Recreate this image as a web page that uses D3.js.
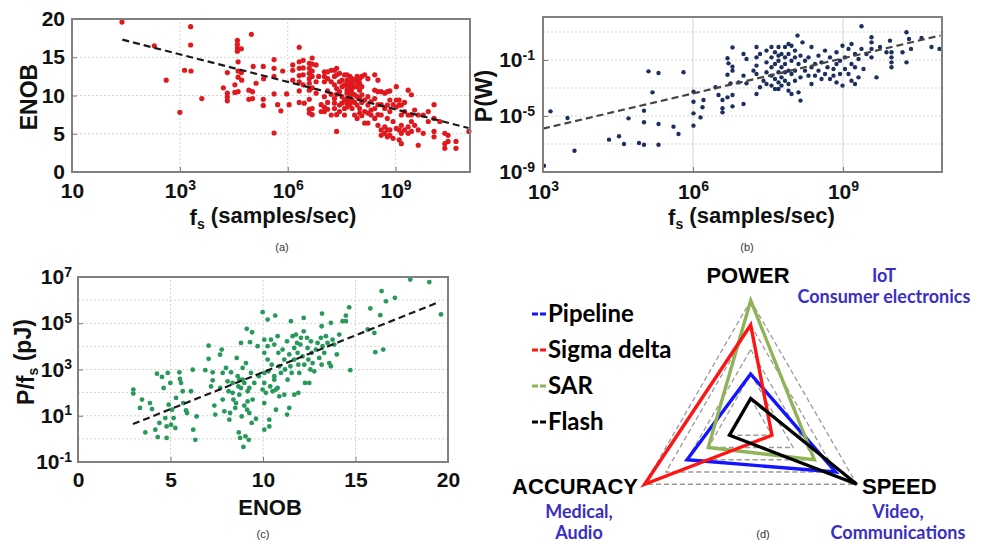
<!DOCTYPE html>
<html>
<head>
<meta charset="utf-8">
<script src="https://cdn.jsdelivr.net/npm/d3@7"></script>
<style>
	body { margin: 0; background: #fff; }
	svg text { font-family: "Liberation Sans", Arial, sans-serif; }
</style>
</head>
<body>
<svg id="fig" width="998" height="544"></svg>
<script>
// ---- (a) ENOB vs sample rate : [log10 fs, ENOB]
const fsEnob = [
	[1.39,19.6],[3.30,19.0],[2.29,16.5],[3.30,16.6],[2.62,12.0],[3.13,13.3],[3.31,13.2],[3.00,7.8],[3.61,9.6],[4.99,18.0],
	[4.60,17.2],[4.60,16.7],[4.60,16.2],[4.60,15.8],[4.71,16.1],[4.62,14.4],[4.62,13.2],[4.71,13.0],[5.04,13.8],[5.32,13.8],
	[4.32,13.0],[4.62,12.4],[4.72,12.0],[5.33,12.2],[5.12,11.6],[4.21,11.0],[4.53,11.4],[4.92,10.7],[5.02,10.5],[4.32,10.3],
	[4.53,10.4],[4.62,10.5],[4.32,9.3],[4.92,9.5],[5.02,9.6],[5.32,9.5],[5.32,8.7],[4.32,9.8],
	[5.62,14.7],[5.62,13.55],[5.62,12.5],[5.62,10.2],[5.62,5.1],[5.72,8.8],[5.81,8.0],[5.86,13.2],[5.97,10.2],[6.04,8.8],
	[6.14,14.0],[6.14,13.3],[6.14,12.0],
	[6.32,16.3],[6.32,14.4],[6.32,13.55],[6.32,12.6],[6.32,11.8],[6.32,10.6],[6.32,9.1],
	[6.43,14.6],[6.43,13.6],[6.43,12.7],[6.43,11.4],[6.46,9.0],
	[6.60,14.2],[6.60,13.55],[6.60,12.9],[6.60,12.2],[6.60,11.6],[6.60,10.7],[6.60,9.5],[6.60,8.2],[6.60,7.7],
	[6.68,14.9],[6.68,14.1],[6.68,13.2],[6.68,12.5],[6.68,11.0],[6.68,8.3],[6.68,7.5],
	[6.79,14.0],[6.79,11.8],[6.79,10.3],[6.86,12.5],[6.93,8.8],[6.93,7.9],
	[7.02,13.1],[7.02,12.5],[7.02,11.8],[7.02,9.85],[7.02,8.5],[7.02,7.9],
	[7.11,13.1],[7.11,12.2],[7.11,10.6],[7.11,9.1],[7.11,8.2],
	[7.21,13.3],[7.21,11.8],[7.21,10.15],[7.21,7.45],
	[7.30,13.3],[7.30,12.5],[7.30,11.4],[7.30,9.6],[7.30,9.0],[7.30,8.3],
	[7.36,13.55],[7.36,12.7],[7.36,10.9],[7.36,10.15],[7.36,7.5],[7.36,5.3],
	[7.44,12.9],[7.44,11.8],[7.44,10.5],[7.44,8.75],[7.44,7.9],
	[7.51,12.0],[7.51,11.15],[7.51,9.85],[7.51,9.0],
	[7.58,12.7],[7.58,11.4],[7.58,9.4],[7.58,8.3],[7.58,7.45],
	[7.65,12.7],[7.65,12.0],[7.65,11.6],[7.65,11.15],[7.65,10.7],[7.65,10.3],[7.65,9.6],[7.65,9.0],[7.65,8.5],
	[7.73,12.5],[7.73,11.8],[7.73,11.4],[7.73,10.9],[7.73,10.5],[7.73,9.85],[7.73,9.2],[7.73,8.75],
	[7.79,12.2],[7.79,11.6],[7.79,10.9],[7.79,10.3],[7.79,9.4],[7.79,8.3],
	[7.86,12.0],[7.86,11.15],[7.86,10.1],[7.86,9.1],[7.86,7.45],
	[7.93,12.5],[7.93,11.8],[7.93,11.15],[7.93,9.85],[7.93,8.75],[7.93,7.0],
	[8.00,12.2],[8.00,11.6],[8.00,10.7],[8.00,9.6],[8.00,8.3],[8.00,7.7],
	[8.06,12.5],[8.06,11.15],[8.06,10.1],[8.06,9.1],[8.06,7.35],
	[8.14,12.7],[8.14,9.4],[8.14,7.9],[8.14,6.4],
	[8.23,12.2],[8.23,9.85],[8.23,8.75],[8.23,7.7],[8.23,6.4],
	[8.32,9.2],[8.32,8.1],[8.32,7.45],
	[8.42,12.7],[8.42,10.7],[8.42,9.6],[8.42,8.3],[8.42,7.0],
	[8.51,12.0],[8.51,10.5],[8.51,8.8],[8.51,7.5],[8.51,6.1],
	[8.60,10.5],[8.60,8.8],[8.60,7.45],[8.60,5.5],[8.60,4.8],
	[8.70,10.3],[8.70,8.3],[8.70,5.9],[8.70,5.05],
	[8.77,10.5],[8.77,8.75],[8.77,7.0],[8.77,5.5],[8.77,4.6],
	[8.84,10.6],[8.84,9.4],[8.84,7.9],[8.84,5.5],[8.84,4.8],
	[8.93,8.8],[8.93,6.6],[8.93,4.4],
	[9.02,11.15],[9.02,9.4],[9.02,8.5],[9.02,5.7],
	[9.10,9.4],[9.10,8.75],[9.10,5.5],[9.10,4.2],
	[9.16,8.75],[9.16,7.45],[9.16,6.1],[9.16,5.05],[9.16,3.7],
	[9.25,9.1],[9.25,7.9],[9.25,5.5],
	[9.35,10.7],[9.35,7.45],[9.35,5.9],[9.35,5.05],
	[9.44,10.1],[9.44,7.45],[9.44,6.6],[9.44,5.3],
	[9.53,8.1],[9.53,6.1],[9.63,7.45],[9.63,5.5],[9.63,3.5],
	[9.77,7.45],[9.77,5.05],[9.91,7.9],[9.91,6.6],
	[10.07,8.8],[10.07,7.0],[10.07,5.3],[10.07,4.6],[10.23,6.6],
	[10.37,5.05],[10.37,3.7],[10.37,3.1],[10.46,4.8],[10.46,4.0],
	[10.68,4.0],[10.68,3.1],[11.04,5.3]
];
const fsEnobTrend = [[1.4,17.3],[11.03,5.75]];
const aXTicks = [1, 1e3, 1e6, 1e9];
const aXLabels = ["10", "10^3", "10^6", "10^9"];
const aYTicks = [0, 5, 10, 15, 20];

// ---- (b) power vs sample rate : [log10 fs, log10 P]
const fsPower = [
	[3.02,-8.55],[3.15,-4.67],[3.49,-5.14],[3.63,-7.48],[4.32,-6.69],[4.52,-6.45],[4.62,-7.0],[4.71,-5.17],[4.92,-6.93],
	[5.02,-4.62],[5.02,-5.45],[5.02,-7.05],[5.11,-1.81],[5.19,-3.31],[5.31,-1.93],[5.31,-5.57],[5.31,-7.05],[5.61,-5.76],
	[5.71,-6.29],[5.81,-1.88],[6.01,-3.26],[6.01,-3.98],[6.01,-4.81],[6.01,-5.69],[6.15,-5.10],[6.19,-4.38],[6.21,-3.86],
	[6.45,-2.95],[6.51,-3.5],[6.59,-3.86],[6.59,-4.45],[6.59,-4.74],[6.69,-3.67],[6.69,-2.05],[6.69,-0.88],[6.71,-1.24],
	[6.75,-2.67],[6.79,-0.1],[6.79,-1.48],[6.79,-1.76],[6.79,-3.5],[6.79,-4.31],[6.91,-2.6],
	[7.01,-4.14],[7.01,-0.57],[7.01,-2.12],[7.07,-0.93],[7.07,-2.67],[7.21,-1.76],
	[7.27,-0.07],[7.27,-0.81],[7.27,-1.40],[7.27,-2.0],[7.27,-3.43],[7.34,-0.57],[7.34,-2.95],[7.41,-2.48],
	[7.47,-0.33],[7.47,-1.17],[7.47,-1.88],[7.47,-2.71],
	[7.57,-0.07],[7.57,-0.81],[7.57,-1.52],[7.57,-2.12],[7.57,-2.83],
	[7.64,-0.45],[7.64,-1.29],[7.64,-2.36],[7.64,-3.07],
	[7.71,-0.07],[7.71,-0.69],[7.71,-1.05],[7.71,-1.88],[7.71,-2.60],[7.71,-3.07],
	[7.77,-0.57],[7.77,-1.52],[7.77,-2.24],[7.77,-2.83],
	[7.84,-0.07],[7.84,-0.81],[7.84,-1.29],[7.84,-1.88],[7.84,-2.48],
	[7.91,0.14],[7.91,-0.57],[7.91,-1.76],[7.91,-2.71],[7.91,-3.19],
	[7.97,0.02],[7.97,-1.05],[7.97,-2.0],[7.97,-3.43],
	[8.04,-0.33],[8.04,-0.81],[8.04,-1.76],[8.04,-2.48],
	[8.09,0.74],[8.11,-1.29],[8.11,-3.31],[8.15,-0.69],[8.15,-2.24],[8.15,-3.90],[8.19,0.26],
	[8.24,-1.05],[8.24,-1.76],[8.31,-0.81],[8.31,-2.12],[8.37,-0.07],[8.37,-1.52],[8.37,-2.71],
	[8.44,-1.29],[8.44,-2.12],[8.51,-0.69],[8.51,-1.76],[8.57,-1.17],[8.57,-2.36],
	[8.64,-0.33],[8.64,-2.0],[8.69,-1.52],[8.74,-0.81],[8.74,-2.36],[8.81,-1.64],[8.81,-2.12],
	[8.87,-0.45],[8.87,-1.29],[8.87,-2.60],[8.94,-1.05],[8.94,-2.0],[8.99,0.02],[8.99,-2.83],
	[9.04,-0.81],[9.04,-1.64],[9.11,-0.21],[9.11,-2.0],[9.17,0.14],[9.17,-1.29],[9.17,-2.48],
	[9.24,-0.57],[9.24,-1.52],[9.24,-2.71],[9.31,-0.93],[9.31,-2.24],[9.37,1.41],[9.37,-0.21],
	[9.41,-1.64],[9.47,-0.57],[9.57,0.62],[9.57,0.26],[9.57,-0.21],[9.57,-0.81],[9.67,-2.24],
	[9.74,-0.07],[9.87,-0.45],[9.94,0.38],[9.97,-0.45],[9.97,-0.81],[9.97,-1.17],[9.97,-1.52],
	[10.19,-0.45],[10.27,0.98],[10.27,-1.17],[10.32,0.50],[10.36,-0.21],[10.57,0.57],[10.77,-0.07],[10.93,-0.21]
];
const fsPowerTrend = [[3,-5.9],[10.95,0.75]];
const bXTicks = [1e3, 1e6, 1e9];
const bXLabels = ["10^3", "10^6", "10^9"];
const bYTicks = [1e-9, 1e-5, 1e-1];
const bYLabels = ["10^-9", "10^-5", "10^-1"];
const bYGrid = [1e-7, 1e-5, 1e-3, 1e-1, 1e1];

// ---- (c) energy per sample vs ENOB : [ENOB, log10 pJ]
const enobEnergy = [
	[2.99,2.13],[2.99,1.96],[3.35,1.34],[3.46,1.70],[3.64,0.28],[3.89,1.55],[4.00,1.29],[4.18,0.40],[4.27,2.82],[4.31,0.08],
	[4.40,0.69],[4.54,2.68],[4.63,2.20],[4.72,0.90],[4.79,0.54],[4.79,0.04],[4.85,2.85],[4.90,1.48],[4.99,2.42],[5.03,0.61],
	[5.08,1.26],[5.17,0.90],[5.26,0.47],[5.30,1.77],[5.48,2.88],[5.51,2.59],[5.57,2.42],[5.66,2.06],[5.69,1.55],[5.84,1.23],
	[5.89,1.12],[6.11,2.06],[6.20,2.99],[6.23,0.40],[6.34,-0.04],[6.41,0.97],[6.88,2.97],[7.06,4.03],[7.06,3.46],[7.19,2.27],
	[7.28,2.88],[7.28,2.53],[7.37,1.44],[7.42,1.05],[7.68,3.64],[7.77,3.86],[7.69,2.20],[7.82,2.85],[7.82,1.70],[7.91,1.19],
	[8.00,3.07],[8.09,2.49],[8.14,2.06],[8.18,0.83],[8.22,1.12],[8.27,2.88],[8.36,2.42],[8.40,1.70],[8.50,1.34],[8.58,3.50],
	[8.63,2.71],[8.67,2.27],[8.69,0.28],[8.72,1.91],[8.76,0.04],[8.81,4.15],[8.85,0.97],[8.90,2.56],[8.94,-0.35],[8.99,1.44],
	[9.05,0.11],[9.08,3.28],[9.12,4.76],[9.14,1.26],[9.17,1.62],[9.23,-0.04],[9.26,2.20],[9.30,4.18],[9.35,2.85],[9.39,0.69],
	[9.41,4.61],[9.44,1.70],[9.53,2.42],[9.62,0.87],[9.71,4.01],[9.77,2.71],[8.72,2.56],[8.99,2.42],[8.81,2.20],[8.36,1.99],
	[8.54,1.55],[9.17,2.06],[8.90,3.07],[9.26,1.12],
	[9.98,5.48],[10.25,5.16],[10.66,5.33],[11.51,5.09],[12.20,5.23],[13.19,5.42],[13.17,4.87],[13.67,5.02],[14.30,5.09],
	[14.48,5.09],[14.48,5.33],[14.66,5.69],[15.80,5.64],[16.34,5.35],[16.41,6.39],[16.65,5.95],[17.13,6.10],[17.96,6.89],
	[18.99,6.78],[19.62,5.38],[15.66,4.73],[16.02,4.58],[16.07,3.75],[16.50,3.86],[14.72,2.97],[13.99,3.65],[14.12,4.51],
	[10.07,4.29],[10.07,3.72],[10.07,2.85],[10.07,2.42],[10.25,4.01],[10.25,3.43],[10.29,2.92],[10.43,4.29],[10.47,3.21],
	[10.61,4.08],[10.61,2.56],[10.70,2.13],[10.79,4.44],[10.83,3.72],[10.88,3.14],[10.97,2.85],[11.06,3.86],[11.15,3.43],
	[11.19,3.0],[11.30,4.22],[11.33,2.56],[11.42,3.65],[11.48,3.14],[11.55,2.85],[11.60,4.44],[11.69,3.93],[11.69,3.43],
	[11.78,4.51],[11.84,4.15],[11.87,3.72],[11.91,3.21],[11.96,2.85],[12.02,4.08],[12.05,4.37],[12.14,3.57],[12.20,4.65],
	[12.23,3.21],[12.27,2.42],[12.38,4.37],[12.41,3.93],[12.45,3.43],[12.50,2.42],[12.56,3.0],[12.59,4.22],[12.63,3.72],
	[12.68,3.28],[12.77,2.92],[12.86,3.86],[12.95,4.15],[13.04,3.5],[13.13,4.37],[13.17,3.21],[13.22,4.01],[13.31,3.72],
	[13.40,4.44],[13.49,4.15],[13.58,3.28],[13.67,3.14],[13.76,4.29],[13.85,4.08],
	[9.98,2.13],[10.07,1.55],[10.16,1.99],[10.39,2.27],[10.52,2.06],[10.61,2.71],[10.70,1.26],[10.79,2.20],[10.88,1.84],
	[11.15,1.91],[11.30,1.05],[11.42,1.34],[11.69,1.91],[11.91,1.99],[10.34,0.83],[10.34,0.54],[10.07,0.40]
];
const enobEnergyTrend = [[2.97,0.64],[19.4,5.88]];
const cXTicks = [0, 5, 10, 15, 20];
const cYTicks = [1e-1, 1e1, 1e3, 1e5, 1e7];
const cYLabels = ["10^-1", "10^1", "10^3", "10^5", "10^7"];
const cYGrid = [1, 10, 100, 1e3, 1e4, 1e5, 1e6];

// ---- (d) radar
const radarAxes = ["POWER", "SPEED", "ACCURACY"];
const radarApps = [["IoT", "Consumer electronics"], ["Video,", "Communications"], ["Medical,", "Audio"]];
const adcTypes = ["Pipeline", "Sigma delta", "SAR", "Flash"];
// values per type, in radarAxes order
const adcScores = [
	[0.4, 0.8, 0.6],
	[0.8, 0.2, 1.0],
	[1.0, 0.6, 0.4],
	[0.2, 1.0, 0.2]
];
const radarLevels = [0.2, 0.4, 0.6, 0.8, 1.0];

const svg = d3.select("#fig");
const pow10 = v => Math.pow(10, v);

function supLabel(t){
	let [base, exp] = t.text().split("^");
	t.text(base);
	if(exp) t.append("tspan").attr("font-size", 14).attr("dy", "-0.55em").text(exp);
}

function styleAxis(g){
	g.attr("font-family", '"Liberation Sans", Arial, sans-serif')
		.attr("font-size", 21)
		.attr("font-weight", "bold");
	g.select(".domain").remove();
	g.selectAll(".tick line").attr("stroke", "#777");
	g.selectAll(".tick text").attr("fill", "#111").each(function(){ supLabel(d3.select(this)) });
}

function scatter(p){
	let g = svg.append("g");
	let [y0, y1] = p.y.range(), [x0, x1] = p.x.range();

	g.selectAll(".gx").data(p.gridX).join("line")
		.attr("x1", d => p.x(d)).attr("x2", d => p.x(d))
		.attr("y1", y0).attr("y2", y1)
		.attr("stroke", "#d4d4d4").attr("stroke-width", 1)
		.attr("stroke-dasharray", p.gridXDash);
	g.selectAll(".gy").data(p.gridY).join("line")
		.attr("x1", x0).attr("x2", x1)
		.attr("y1", d => p.y(d)).attr("y2", d => p.y(d))
		.attr("stroke", "#d4d4d4").attr("stroke-width", 1)
		.attr("stroke-dasharray", "2,2");

	g.append("g").attr("transform", `translate(0,${y0})`)
		.call(d3.axisBottom(p.x).tickValues(p.xTicks).tickSize(-5).tickPadding(p.padX)
			.tickFormat((d, i) => p.xLabels[i]))
		.call(styleAxis);
	g.append("g").attr("transform", `translate(${x0},0)`)
		.call(d3.axisLeft(p.y).tickValues(p.yTicks).tickSize(-5).tickPadding(p.padY)
			.tickFormat((d, i) => p.yLabels[i]))
		.call(styleAxis);

	g.selectAll(".dot").data(p.data).join("circle")
		.attr("cx", d => p.x(p.fx(d[0])))
		.attr("cy", d => p.y(p.fy(d[1])))
		.attr("r", p.r)
		.attr("fill", p.colour);

	g.append("path")
		.attr("d", d3.line().x(d => p.x(p.fx(d[0]))).y(d => p.y(p.fy(d[1])))(p.trend))
		.attr("fill", "none")
		.attr("stroke", p.trendColour)
		.attr("stroke-width", 2.2)
		.attr("stroke-dasharray", "7,4");

	g.append("rect")
		.attr("x", x0).attr("y", y1)
		.attr("width", x1 - x0).attr("height", y0 - y1)
		.attr("fill", "none").attr("stroke", "#808080").attr("stroke-width", 2);

	// axis titles
	let xt = g.append("text")
		.attr("x", (x0 + x1) / 2 + p.xTitleShift).attr("y", p.xTitleY)
		.attr("text-anchor", "middle").attr("font-size", 22).attr("font-weight", "bold").attr("fill", "#111");
	p.xTitle(xt);
	let yt = g.append("text")
		.attr("transform", `translate(${p.yTitleX},${p.yTitleMid}) rotate(-90)`)
		.attr("text-anchor", "middle").attr("font-size", 23).attr("font-weight", "bold").attr("fill", "#111");
	p.yTitle(yt);

	g.append("text")
		.attr("x", p.caption[0]).attr("y", p.caption[1])
		.attr("text-anchor", "middle").attr("font-size", 11).attr("fill", "#333")
		.text(p.caption[2]);
}

function fsTitle(t){
	t.append("tspan").text("f");
	t.append("tspan").attr("font-size", 14).attr("dy", "0.3em").text("s");
	t.append("tspan").attr("dy", "-0.3em").text(" (samples/sec)");
}

// (a)
scatter({
	data: fsEnob, trend: fsEnobTrend, fx: pow10, fy: v => v,
	x: d3.scaleLog().domain([1, pow10(11.07)]).range([72, 470]),
	y: d3.scaleLinear().domain([0, 20]).range([172, 19]),
	xTicks: aXTicks, xLabels: aXLabels, yTicks: aYTicks, yLabels: aYTicks.map(String),
	gridX: [1e3, 1e6, 1e9], gridXDash: "2,2", gridY: [5, 10, 15],
	padX: 11, padY: 7, r: 2.6, colour: "#e0191f", trendColour: "#1a1a1a",
	xTitle: fsTitle, xTitleY: 225, xTitleShift: 2,
	yTitle: t => t.text("ENOB"), yTitleX: 37, yTitleMid: 97,
	caption: [282, 251, "(a)"]
});

// (b)
scatter({
	data: fsPower, trend: fsPowerTrend, fx: pow10, fy: pow10,
	x: d3.scaleLog().domain([1e3, pow10(10.98)]).range([543, 942]),
	y: d3.scaleLog().domain([1e-9, pow10(2.07)]).range([172, 17]),
	xTicks: bXTicks, xLabels: bXLabels, yTicks: bYTicks, yLabels: bYLabels,
	gridX: [1e6, 1e9], gridXDash: null, gridY: bYGrid,
	padX: 12, padY: 8, r: 2.2, colour: "#1d2f5f", trendColour: "#444",
	xTitle: fsTitle, xTitleY: 225, xTitleShift: 9,
	yTitle: t => t.text("P(W)"), yTitleX: 492, yTitleMid: 96,
	caption: [747, 251, "(b)"]
});

// (c)
scatter({
	data: enobEnergy, trend: enobEnergyTrend, fx: v => v, fy: pow10,
	x: d3.scaleLinear().domain([0, 20]).range([78, 448]),
	y: d3.scaleLog().domain([1e-1, 1e7]).range([462, 277]),
	xTicks: cXTicks, xLabels: cXTicks.map(String), yTicks: cYTicks, yLabels: cYLabels,
	gridX: [5, 10, 15], gridXDash: "2,2", gridY: cYGrid,
	padX: 10, padY: 6, r: 2.4, colour: "#27995a", trendColour: "#1a1a1a",
	xTitle: t => t.text("ENOB"), xTitleY: 515, xTitleShift: 7,
	yTitle: t => {
		t.append("tspan").text("P/f");
		t.append("tspan").attr("font-size", 14).attr("dy", "0.3em").text("s");
		t.append("tspan").attr("dy", "-0.3em").text(" (pJ)");
	},
	yTitleX: 34, yTitleMid: 362,
	caption: [263, 538, "(c)"]
});

// (d) radar
const cx = 750.7, cy = 423, R = 122.5;
const rScale = d3.scaleLinear().domain([0, 1]).range([0, R]);
const angles = [-90, 30, 150].map(a => a * Math.PI / 180);
const radarPoint = (v, i) => [cx + rScale(v) * Math.cos(angles[i]), cy + rScale(v) * Math.sin(angles[i])];
const closed = d3.line().curve(d3.curveLinearClosed);
const rg = svg.append("g");

rg.selectAll(".level").data(radarLevels).join("path")
	.attr("d", lv => closed(angles.map((a, i) => radarPoint(lv, i))))
	.attr("fill", "none").attr("stroke", "#9a9a9a").attr("stroke-width", 1.3)
	.attr("stroke-dasharray", "5,3");

const typeColour = d3.scaleOrdinal().domain(adcTypes).range(["#1414ff", "#ff1414", "#8fb457", "#000"]);
const drawOrder = [0, 2, 1, 3];
rg.selectAll(".adc").data(drawOrder).join("path")
	.attr("d", k => closed(adcScores[k].map(radarPoint)))
	.attr("fill", "none")
	.attr("stroke", k => typeColour(adcTypes[k]))
	.attr("stroke-width", 3.4)
	.attr("stroke-linejoin", "miter");

// axis names and applications
const axisLabelPos = [
	{x: 748, y: 283, anchor: "middle", app: [884, 282, "middle"]},
	{x: 862, y: 494, anchor: "start", app: [898, 518, "middle"]},
	{x: 638, y: 494, anchor: "end", app: [579, 518, "middle"]}
];
radarAxes.forEach((name, i) => {
	let p = axisLabelPos[i];
	rg.append("text").attr("x", p.x).attr("y", p.y).attr("text-anchor", p.anchor)
		.attr("font-size", 22).attr("font-weight", "bold").attr("fill", "#000").text(name);
	radarApps[i].forEach((line, j) => {
		rg.append("text").attr("x", p.app[0]).attr("y", p.app[1] + j * 21).attr("text-anchor", p.app[2])
			.attr("font-size", 18).attr("font-weight", "bold").attr("fill", "#3a2fc2")
			.style("font-family", "Lato, 'Liberation Sans', sans-serif")
			.text(line);
	});
});

// legend
const legend = rg.selectAll(".leg").data(adcTypes).join("g")
	.attr("transform", (d, i) => `translate(532,${322 + i * 36})`);
legend.append("line")
	.attr("x1", 0).attr("x2", 15).attr("y1", -8).attr("y2", -8)
	.attr("stroke", d => typeColour(d)).attr("stroke-width", 3).attr("stroke-dasharray", "6,2");
legend.append("text").attr("x", 16).attr("y", 0)
	.attr("font-size", 24).attr("font-weight", "bold").attr("fill", "#000")
	.style("font-family", "Lato, 'Liberation Sans', sans-serif")
	.text(d => d);

rg.append("text").attr("x", 763).attr("y", 538).attr("text-anchor", "middle")
	.attr("font-size", 11).attr("fill", "#333").text("(d)");
</script>
</body>
</html>
